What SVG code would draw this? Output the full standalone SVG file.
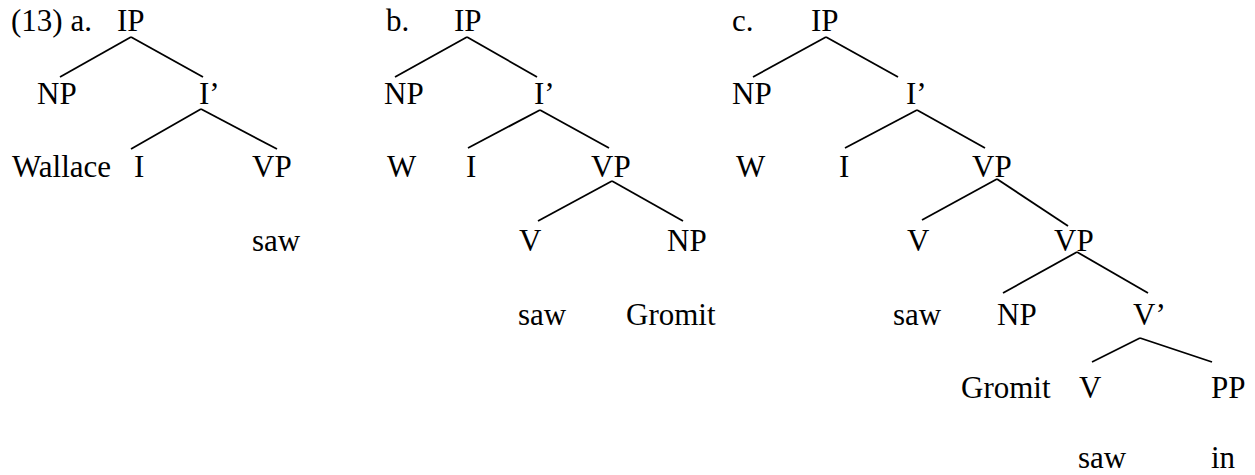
<svg xmlns="http://www.w3.org/2000/svg" width="1255" height="475" viewBox="0 0 1255 475">
<style>
text{font-family:"Liberation Serif","Times New Roman",serif;font-size:31px;fill:#000}
line{stroke:#000;stroke-width:1.8}
</style>
<rect width="1255" height="475" fill="#fff"/>
<g id="labels">
<text x="11" y="31">(13) a.</text>
<text x="386" y="31">b.</text>
<text x="732" y="31">c.</text>
</g>
<g id="tree-a">
<g id="a-IP"><text x="117" y="31">IP</text></g>
<g id="a-NP"><text x="37" y="104">NP</text></g>
<g id="a-Ibar"><text x="199" y="104">I’</text></g>
<g id="a-Wallace"><text x="12" y="177">Wallace</text></g>
<g id="a-I"><text x="134" y="177">I</text></g>
<g id="a-VP"><text x="252" y="177">VP</text></g>
<g id="a-saw"><text x="252" y="251">saw</text></g>
</g>
<g id="tree-b">
<g id="b-IP"><text x="454" y="31">IP</text></g>
<g id="b-NP"><text x="384" y="104">NP</text></g>
<g id="b-Ibar"><text x="534" y="104">I’</text></g>
<g id="b-W"><text x="387" y="177">W</text></g>
<g id="b-I"><text x="466" y="177">I</text></g>
<g id="b-VP"><text x="591" y="177">VP</text></g>
<g id="b-V"><text x="519" y="251">V</text></g>
<g id="b-NP2"><text x="667" y="251">NP</text></g>
<g id="b-saw"><text x="518" y="325">saw</text></g>
<g id="b-Gromit"><text x="626" y="325">Gromit</text></g>
</g>
<g id="tree-c">
<g id="c-IP"><text x="811" y="31">IP</text></g>
<g id="c-NP"><text x="732" y="104">NP</text></g>
<g id="c-Ibar"><text x="906" y="104">I’</text></g>
<g id="c-W"><text x="736" y="177">W</text></g>
<g id="c-I"><text x="839" y="177">I</text></g>
<g id="c-VP"><text x="972" y="177">VP</text></g>
<g id="c-V"><text x="907" y="251">V</text></g>
<g id="c-VP2"><text x="1054" y="251">VP</text></g>
<g id="c-saw"><text x="893" y="325">saw</text></g>
<g id="c-NP2"><text x="997" y="325">NP</text></g>
<g id="c-Vbar"><text x="1133" y="325">V’</text></g>
<g id="c-Gromit"><text x="961" y="398">Gromit</text></g>
<g id="c-V2"><text x="1079" y="398">V</text></g>
<g id="c-PP"><text x="1211" y="398">PP</text></g>
<g id="c-saw2"><text x="1078" y="468">saw</text></g>
<g id="c-in"><text x="1211" y="468">in</text></g>
</g>
<g id="connectors">
<line x1="131" y1="37" x2="60" y2="77"/>
<line x1="131" y1="37" x2="203" y2="77"/>
<line x1="201" y1="109" x2="131" y2="149"/>
<line x1="201" y1="109" x2="277" y2="149"/>
<line x1="467" y1="37" x2="395" y2="77"/>
<line x1="467" y1="37" x2="537" y2="77"/>
<line x1="540" y1="110" x2="468" y2="148"/>
<line x1="540" y1="110" x2="609" y2="148"/>
<line x1="612" y1="181" x2="538" y2="221"/>
<line x1="612" y1="181" x2="683" y2="221"/>
<line x1="826" y1="37" x2="753" y2="77"/>
<line x1="826" y1="37" x2="898" y2="77"/>
<line x1="917" y1="110" x2="845" y2="148"/>
<line x1="917" y1="110" x2="985" y2="148"/>
<line x1="997" y1="179" x2="922" y2="220"/>
<line x1="997" y1="179" x2="1068" y2="226"/>
<line x1="1077" y1="252" x2="1003" y2="293"/>
<line x1="1077" y1="252" x2="1148" y2="293"/>
<line x1="1140" y1="338" x2="1092" y2="362"/>
<line x1="1140" y1="338" x2="1212" y2="362"/>
</g>
</svg>
